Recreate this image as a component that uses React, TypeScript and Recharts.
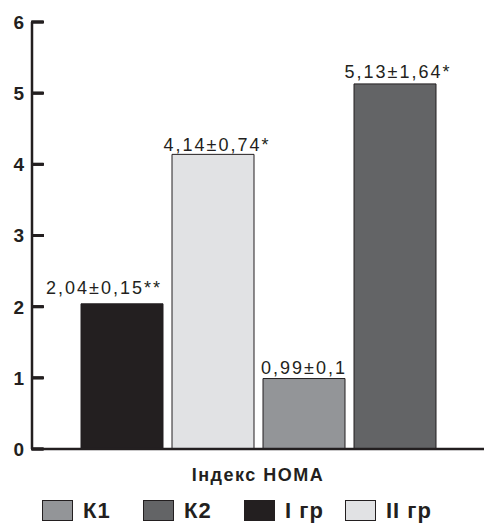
import React from "react"
import { BarChart, Bar, XAxis, YAxis, Legend, LabelList } from "recharts"

document.body.style.margin = "0"

// Дані з рисунка
const category = "Індекс HOMA"
const groups = ["I гр", "II гр", "К1", "К2"]
const values = [2.04, 4.14, 0.99, 5.13]
const valueLabels = ["2,04±0,15**", "4,14±0,74*", "0,99±0,1", "5,13±1,64*"]
const legendOrder = ["К1", "К2", "I гр", "II гр"]
const yTicks = [0, 1, 2, 3, 4, 5, 6]

const ink = "#231f20"
const font = "Liberation Sans, Arial, Helvetica, sans-serif"
const colors: Record<string, string> = {
    "I гр": "#231f20",
    "II гр": "#e1e2e4",
    "К1": "#939598",
    "К2": "#636466",
}
// зсув підписів над стовпцями (як в оригіналі)
const labelOffsets = [10, 3, 5, 6]
const labelShift = [-18, 4, 0, 3]

const row: any = { name: category }
groups.forEach((g, i) => {
    row[`v${i}`] = values[i]
    row[`l${i}`] = valueLabels[i]
})
const data = [row]

const renderYTick = (props: any) => {
    const { y, payload } = props
    return (
        <g key={`yt-${payload.value}`}>
            <path d={`M31,${y}H44`} stroke={ink} strokeWidth={3} fill="none" />
            <text x={24} y={y} dy="0.36em" textAnchor="end" fill={ink}
                fontFamily={font} fontSize={19} fontWeight={700}>
                {payload.value}
            </text>
        </g>
    )
}

const renderXTick = (props: any) => {
    const { x, y, payload } = props
    return (
        <text x={x} y={y + 24} textAnchor="middle" fill={ink} letterSpacing={1.5}
            fontFamily={font} fontSize={18} fontWeight={700}>
            {payload.value}
        </text>
    )
}

const LegendContent = () => (
    <div style={{ display: "flex", height: 30, paddingTop: 7, paddingLeft: 42, boxSizing: "border-box" }}>
        {legendOrder.map((name) => (
            <div key={name} style={{ display: "flex", alignItems: "center", width: 101, height: 21 }}>
                <span style={{
                    width: 31, height: 21, background: colors[name], border: `1px solid ${ink}`,
                    boxSizing: "border-box", marginRight: 10, display: "inline-block",
                }} />
                <span style={{ fontFamily: font, fontSize: 22, fontWeight: 700, color: ink, lineHeight: "21px", letterSpacing: 1 }}>
                    {name}
                </span>
            </div>
        ))}
    </div>
)

export default function App() {
    return (
        <BarChart
            width={484}
            height={523}
            data={data}
            margin={{ top: 22, right: 0, left: 0, bottom: 0 }}
            barSize={82}
            barGap={9}
        >
            <Legend
                verticalAlign="bottom"
                content={<LegendContent />}
                wrapperStyle={{ left: 0, width: 484, bottom: 0 }}
            />
            {groups.map((g, i) => (
                <Bar
                    key={g}
                    dataKey={`v${i}`}
                    name={g}
                    fill={colors[g]}
                    stroke={ink}
                    strokeWidth={1}
                    isAnimationActive={false}
                >
                    <LabelList
                        dataKey={`l${i}`}
                        position="top"
                        offset={labelOffsets[i]}
                        dx={labelShift[i]}
                        fill={ink}
                        letterSpacing={2}
                        fontFamily={font}
                        fontSize={18}
                    />
                </Bar>
            ))}
            <XAxis
                dataKey="name"
                height={44}
                tickLine={false}
                tick={renderXTick}
                axisLine={{ stroke: ink, strokeWidth: 2.5 }}
            />
            <YAxis
                width={32}
                domain={[0, 6]}
                ticks={yTicks}
                tickSize={-11}
                tickMargin={19}
                tickLine={{ stroke: ink, strokeWidth: 3 }}
                tick={renderYTick}
                axisLine={{ stroke: ink, strokeWidth: 2.5 }}
            />
        </BarChart>
    )
}
